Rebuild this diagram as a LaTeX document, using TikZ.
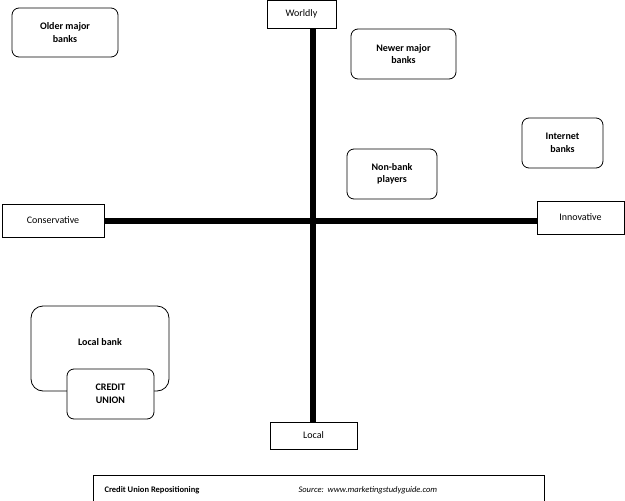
\documentclass[tikz,border=0pt]{standalone}
\usepackage{fontspec}
\setmainfont{Carlito}
\begin{document}
\begin{tikzpicture}[x=1pt,y=-1pt,
  lbl/.style={draw,thick,fill=white,font=\fontsize{10}{12}\selectfont,inner sep=0pt},
  rbox/.style={draw,thick,rounded corners=7pt,fill=white,align=center,font=\bfseries\fontsize{10}{12.5}\selectfont,inner sep=0pt},
  axis/.style={line width=6pt}]
\useasboundingbox (0,0) rectangle (625,501);
\coordinate (top) at (313,25); \coordinate (bot) at (313,425);
\coordinate (lft) at (103,221); \coordinate (rgt) at (537,221);
\draw[axis] (top) -- (bot);
\draw[axis] (lft) -- (rgt);
\node[lbl,minimum width=69,minimum height=28] (w) at (301.5,14) {Worldly};
\node[lbl,minimum width=102,minimum height=33] (c) at (53,220.5) {Conservative};
\node[lbl,minimum width=87,minimum height=33] (i) at (580.5,217.5) {Innovative};
\node[lbl,minimum width=87,minimum height=27] (l) at (313.5,435.5) {Local};
\node[rbox,minimum width=106,minimum height=49] (o) at (65,32.5) {Older major\\banks};
\node[rbox,minimum width=105,minimum height=50] (n) at (403.5,54) {Newer major\\banks};
\node[rbox,minimum width=81,minimum height=50] (ib) at (562.5,143) {Internet\\banks};
\node[rbox,minimum width=90,minimum height=50] (nb) at (392,174) {Non-bank\\players};
\node[rbox,minimum width=138,minimum height=85,rounded corners=12pt] (lb) at (100,348.5) {};
\node[font=\bfseries\fontsize{10}{12}\selectfont] (lbt) at (100,342) {Local bank};
\node[rbox,minimum width=87,minimum height=50] (cu) at (110.5,394) {CREDIT\\UNION};
\node[draw,minimum width=451,minimum height=26,inner sep=0pt] (src) at (318.5,488) {};
\node[anchor=west,font=\bfseries\fontsize{8.5}{10}\selectfont] (t1) at (101,490) {Credit Union Repositioning};
\node[anchor=west,font=\itshape\fontsize{8.5}{10}\selectfont] (t2) at (295,490) {Source:\ \ www.marketingstudyguide.com};
\end{tikzpicture}
\end{document}
